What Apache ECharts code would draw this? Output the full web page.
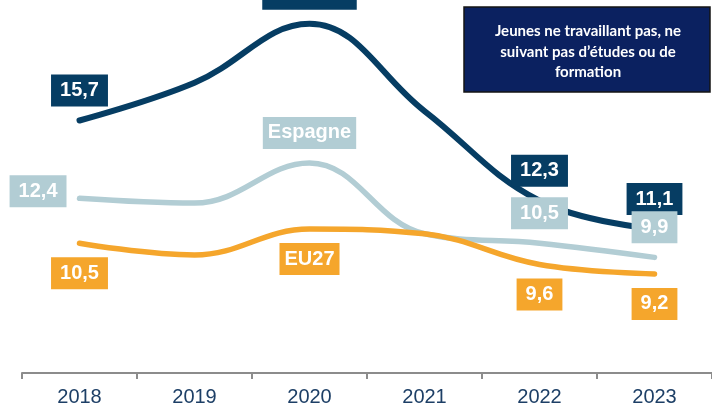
<!DOCTYPE html>
<html>
<head>
<meta charset="utf-8">
<script src="https://cdn.jsdelivr.net/npm/echarts@6/dist/echarts.min.js"></script>
<style>
  html, body { margin: 0; padding: 0; background: #fff; }
  #chart { width: 712px; height: 408px; }
</style>
</head>
<body>
<div id="chart"></div>
<script>
// data
const years = ['2018', '2019', '2020', '2021', '2022', '2023'];
const canarias = [15.7, 17.3, 19.8, 16.1, 12.3, 11.1];
const espagne = [12.4, 12.2, 13.9, 10.9, 10.5, 9.9];
const eu27 = [10.5, 10.0, 11.1, 10.9, 9.6, 9.2];
const valueLabelIdx = [0, 4, 5];
const nameLabelIdx = 2;
const noteLines = ['Jeunes ne travaillant pas, ne', 'suivant pas d\u2019études ou de', 'formation'];

const fmt = v => String(v).replace('.', ',');

function buildData(values, name, color, pos, extra) {
  return values.map((v, i) => {
    let item = { value: v };
    let base = {
      show: false, position: pos, distance: 14,
      color: '#fff', fontWeight: 'bold', fontSize: 20, lineHeight: 20,
      fontFamily: 'Liberation Sans, Arial, sans-serif',
      backgroundColor: color, padding: [6, 9]
    };
    if (valueLabelIdx.indexOf(i) >= 0) {
      item.label = Object.assign({}, base, { show: true, formatter: fmt(v) }, (extra && extra[i]) || {});
    } else if (i === nameLabelIdx) {
      item.label = Object.assign({}, base, { show: true, formatter: name, padding: [6, 5] });
    }
    return item;
  });
}

function mkSeries(name, values, color, pos, width, z, extra) {
  return {
    name: name,
    type: 'line',
    smooth: 0.4,
    symbol: 'circle',
    symbolSize: 0,
    showSymbol: true,
    z: z,
    lineStyle: { color: color, width: width, cap: 'round' },
    itemStyle: { color: color },
    data: buildData(values, name, color, pos, extra),
    animation: false
  };
}

const chart = echarts.init(document.getElementById('chart'));
chart.setOption({
  animation: false,
  grid: { left: 22, width: 699, top: 19, bottom: 35 },
  xAxis: {
    type: 'category',
    data: years,
    boundaryGap: true,
    axisLine: { lineStyle: { color: '#8c8c8c', width: 2 } },
    axisTick: { show: true, length: 6, lineStyle: { color: '#8c8c8c', width: 2 } },
    axisLabel: { color: '#1d3f66', fontSize: 20, margin: 14, fontFamily: 'Liberation Sans, Arial, sans-serif' }
  },
  yAxis: { type: 'value', min: 5, max: 20, show: false, splitLine: { show: false } },
  graphic: [
    {
      type: 'rect', x: 464, y: 7, z: 10,
      shape: { width: 246, height: 85 },
      style: { fill: '#0b2160', stroke: '#151515', lineWidth: 1.5 }
    },
    {
      type: 'text', x: 588, y: 21, z: 11,
      style: {
        text: noteLines.join('\n'),
        fill: '#fff', font: 'bold 15px Lato, sans-serif',
        lineHeight: 20.5, align: 'center', verticalAlign: 'top'
      }
    }
  ],
  series: [
    mkSeries('Canarias', canarias, '#063d63', 'top', 6, 2),
    mkSeries('Espagne', espagne, '#b2cdd4', 'top', 5.5, 3,
      { 0: { position: 'left', distance: 13, offset: [0, -7] } }),
    mkSeries('EU27', eu27, '#f5a62c', 'bottom', 5.5, 4)
  ]
});
</script>
</body>
</html>
